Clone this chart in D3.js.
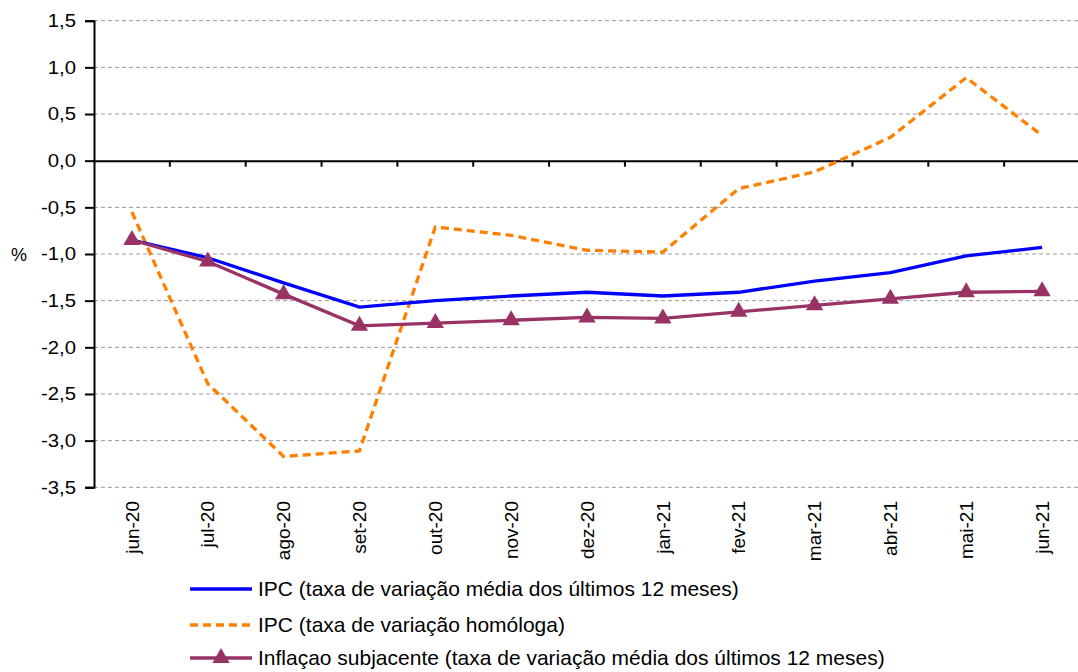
<!DOCTYPE html>
<html lang="pt">
<head>
    <meta charset="UTF-8">
    <title>IPC e inflação subjacente</title>
    <style>
        body{
            margin: 0;
            background-color: #ffffff;
        }
        text{
            font-family: "Liberation Sans", Arial, Helvetica, sans-serif;
            fill: #000000;
        }
        .grid line{
            stroke: #999999;
            stroke-width: 1px;
            stroke-dasharray: 4,3;
        }
        .axis path, .axis line{
            stroke: #000000;
            stroke-width: 2px;
        }
    </style>
    <script src="https://cdn.jsdelivr.net/npm/d3@7"></script>
</head>
<body>
<div id="container"></div>
<script type="text/javascript">
    // meses (jun-20 a jun-21)
    const months = ["jun-20","jul-20","ago-20","set-20","out-20","nov-20","dez-20",
                    "jan-21","fev-21","mar-21","abr-21","mai-21","jun-21"];
    // IPC (taxa de variação média dos últimos 12 meses)
    const ipcMedia = [-0.85,-1.04,-1.31,-1.57,-1.50,-1.45,-1.41,-1.45,-1.41,-1.29,-1.20,-1.02,-0.93];
    // IPC (taxa de variação homóloga)
    const ipcHomologa = [-0.55,-2.39,-3.17,-3.11,-0.71,-0.80,-0.96,-0.98,-0.30,-0.12,0.25,0.89,0.27];
    // Inflaçao subjacente
    const subjacente = [-0.85,-1.08,-1.43,-1.77,-1.74,-1.71,-1.68,-1.69,-1.62,-1.55,-1.48,-1.41,-1.40];
    const yTicks = [1.5,1.0,0.5,0.0,-0.5,-1.0,-1.5,-2.0,-2.5,-3.0,-3.5];
    const seriesNames = ["IPC (taxa de variação média dos últimos 12 meses)",
                         "IPC (taxa de variação homóloga)",
                         "Inflaçao subjacente (taxa de variação média dos últimos 12 meses)"];

    const width = 1078, height = 672;
    const plot = {left: 94, right: 1080, top: 20.7, bottom: 487.3};

    const svg = d3.select("#container")
        .append("svg")
        .attr("width", width)
        .attr("height", height);

    const xScale = d3.scaleBand().domain(months).range([plot.left, plot.right]).padding(0);
    const yScale = d3.scaleLinear().domain([-3.5, 1.5]).range([plot.bottom, plot.top]);
    const cx = d => xScale(d) + xScale.bandwidth() / 2;
    const fmt = d => d3.format(".1f")(d).replace(".", ",").replace("−", "-");

    // grelha
    svg.append("g").attr("class", "grid")
        .selectAll("line")
        .data(yTicks.filter(d => d !== 0))
        .enter()
        .append("line")
        .attr("x1", plot.left).attr("x2", plot.right)
        .attr("y1", d => yScale(d)).attr("y2", d => yScale(d));

    // eixo y
    const yAxis = d3.axisLeft(yScale).tickValues(yTicks).tickSize(9).tickFormat(fmt);
    const yg = svg.append("g").attr("class", "axis")
        .attr("transform", `translate(${plot.left},0)`)
        .call(yAxis);
    yg.selectAll("text")
        .attr("x", null)
        .attr("transform", "translate(-18,0) scale(1.13,1)")
        .style("font-size", "18px");

    svg.append("text")
        .attr("x", 11).attr("y", yScale(-1.0) + 7)
        .style("font-size", "18px")
        .text("%");

    // eixo x em zero, marcas entre categorias
    const xAxis = d3.axisBottom(xScale).tickSize(0).tickFormat("");
    const xg = svg.append("g").attr("class", "axis")
        .attr("transform", `translate(0,${yScale(0)})`)
        .call(xAxis);
    xg.selectAll(".tick").remove();
    xg.selectAll("line.sep")
        .data(months.slice(1))
        .enter()
        .append("line")
        .attr("class", "sep")
        .attr("x1", d => xScale(d)).attr("x2", d => xScale(d))
        .attr("y1", 0).attr("y2", 6);

    svg.append("g")
        .selectAll("text")
        .data(months)
        .enter()
        .append("text")
        .attr("transform", d => `translate(${cx(d)},501) rotate(-90)`)
        .attr("text-anchor", "end")
        .attr("dy", "0.35em")
        .style("font-size", "19px")
        .text(d => d);

    // linhas
    const lineGen = d3.line().x((d, i) => cx(months[i])).y(d => yScale(d));

    svg.append("path").datum(ipcHomologa)
        .attr("d", lineGen)
        .attr("fill", "none")
        .attr("stroke", "#ff7f00")
        .attr("stroke-width", 3.3)
        .attr("stroke-dasharray", "8,5");

    svg.append("path").datum(ipcMedia)
        .attr("d", lineGen)
        .attr("fill", "none")
        .attr("stroke", "#0000ff")
        .attr("stroke-width", 3.3);

    svg.append("path").datum(subjacente)
        .attr("d", lineGen)
        .attr("fill", "none")
        .attr("stroke", "#993366")
        .attr("stroke-width", 3.3);

    const tri = d3.symbol().type(d3.symbolTriangle).size(130);
    svg.append("g")
        .selectAll("path")
        .data(subjacente)
        .enter()
        .append("path")
        .attr("d", tri)
        .attr("transform", (d, i) => `translate(${cx(months[i])},${yScale(d)})`)
        .attr("fill", "#993366");

    // legenda
    const legY = [589, 625, 658];
    const legStyles = [
        {color: "#0000ff", dash: null, marker: false},
        {color: "#ff7f00", dash: "8,5", marker: false},
        {color: "#993366", dash: null, marker: true}
    ];
    const leg = svg.append("g");
    seriesNames.forEach((name, i) => {
        leg.append("line")
            .attr("x1", 190).attr("x2", 252)
            .attr("y1", legY[i]).attr("y2", legY[i])
            .attr("stroke", legStyles[i].color)
            .attr("stroke-width", 3.3)
            .attr("stroke-dasharray", legStyles[i].dash);
        if (legStyles[i].marker) {
            leg.append("path")
                .attr("d", tri)
                .attr("transform", `translate(221,${legY[i]})`)
                .attr("fill", legStyles[i].color);
        }
        leg.append("text")
            .attr("transform", `translate(258,${legY[i] + 7}) scale(1.05,1)`)
            .style("font-size", "20px")
            .text(name);
    });
</script>
</body>
</html>
